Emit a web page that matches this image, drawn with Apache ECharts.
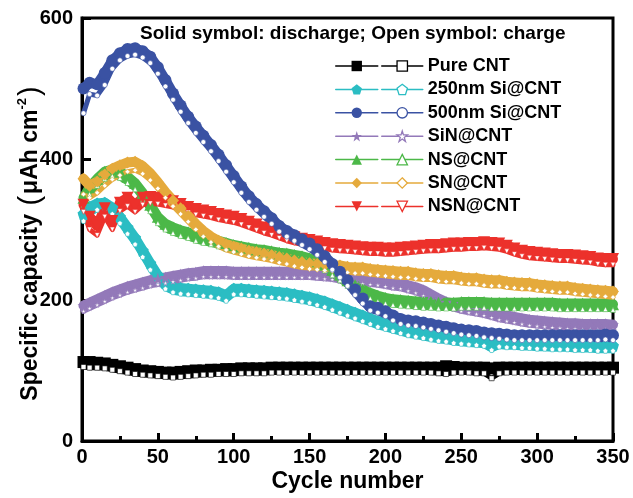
<!DOCTYPE html>
<html>
<head>
<meta charset="utf-8">
<script src="https://cdn.jsdelivr.net/npm/echarts@6.0.0/dist/echarts.min.js"></script>
<style>
  html, body { margin: 0; padding: 0; background: #fff; }
  #chart { width: 633px; height: 498px; }
</style>
</head>
<body>
<div id="chart"></div>
<script>
// cycle numbers the values were read at
const cycles = [1, 5, 10, 15, 20, 25, 30, 35, 40, 45,
  50, 55, 60, 65, 70, 75, 80, 85, 90, 95,
  100, 105, 110, 115, 120, 125, 130, 135, 140, 145,
  150, 155, 160, 165, 170, 175, 180, 185, 190, 195,
  200, 205, 210, 215, 220, 225, 230, 235, 240, 245,
  250, 255, 260, 265, 270, 275, 280, 285, 290, 295,
  300, 305, 310, 315, 320, 325, 330, 335, 340, 345,
  350];

// discharge (solid symbol) / charge (open symbol), uAh cm-2
const pureDis = [112, 112, 111, 110, 108, 106, 104, 102, 100, 99,
  98, 97, 97, 98, 99, 100, 100, 101, 101, 102,
  102, 103, 103, 103, 103, 104, 104, 104, 104, 104,
  104, 104, 104, 104, 104, 104, 104, 104, 104, 104,
  104, 104, 104, 104, 104, 104, 104, 104, 106, 105,
  104, 104, 104, 104, 103, 104, 104, 104, 104, 104,
  104, 104, 104, 104, 104, 104, 104, 104, 104, 104,
  104];
const pureChg = [105, 104, 104, 103, 101, 99, 97, 95, 94, 93,
  92, 91, 90, 91, 92, 93, 94, 94, 95, 95,
  95, 96, 96, 96, 96, 97, 97, 97, 97, 97,
  97, 97, 97, 97, 97, 97, 97, 97, 97, 97,
  97, 97, 97, 97, 97, 97, 97, 96, 95, 97,
  97, 97, 96, 96, 89, 96, 97, 97, 97, 97,
  97, 97, 97, 97, 97, 97, 97, 97, 97, 97,
  97];

const si250Dis = [322, 332, 337, 338, 331, 318, 303, 288, 270, 252,
  235, 224, 219, 217, 216, 215, 214, 213, 211, 207,
  216, 216, 215, 214, 213, 212, 211, 210, 208, 206,
  204, 201, 198, 194, 190, 186, 182, 178, 174, 170,
  167, 164, 161, 158, 156, 154, 152, 150, 149, 147,
  146, 145, 144, 143, 136, 141, 140, 140, 139, 139,
  138, 138, 137, 137, 137, 136, 136, 136, 135, 135,
  135];
const si250Chg = [312, 322, 328, 330, 322, 309, 294, 279, 261, 243,
  226, 216, 211, 209, 208, 207, 206, 205, 203, 199,
  208, 208, 207, 206, 205, 204, 203, 202, 200, 198,
  196, 193, 190, 186, 182, 178, 174, 170, 166, 162,
  159, 156, 153, 150, 148, 146, 144, 142, 141, 139,
  138, 137, 136, 135, 129, 134, 133, 133, 132, 132,
  131, 131, 130, 130, 130, 129, 129, 129, 128, 128,
  128];

const si500Dis = [500, 508, 506, 522, 540, 550, 556, 557, 553, 545,
  530, 512, 493, 476, 460, 446, 433, 420, 406, 391,
  376, 361, 347, 336, 326, 316, 305, 298, 292, 286,
  280, 272, 262, 251, 240, 228, 215, 202, 191, 189,
  184, 178, 173, 171, 170, 168, 166, 164, 162, 160,
  158, 157, 156, 154, 153, 152, 151, 150, 150, 150,
  150, 150, 150, 150, 150, 150, 150, 150, 150, 151,
  150];
const si500Chg = [465, 492, 490, 505, 528, 540, 546, 548, 544, 536,
  521, 503, 484, 467, 451, 437, 424, 411, 397, 382,
  367, 352, 339, 328, 318, 308, 297, 290, 284, 278,
  272, 264, 254, 243, 232, 220, 207, 195, 185, 182,
  177, 171, 166, 164, 163, 161, 159, 157, 155, 153,
  151, 150, 149, 147, 146, 145, 144, 143, 143, 143,
  143, 143, 143, 143, 143, 143, 143, 143, 143, 144,
  143];

const sinDis = [192, 196, 201, 206, 211, 215, 219, 222, 225, 228,
  230, 232, 234, 236, 238, 239, 241, 241, 241, 241,
  240, 240, 240, 240, 240, 240, 240, 240, 240, 240,
  240, 239, 238, 237, 235, 233, 232, 231, 230, 229,
  227, 225, 224, 221, 218, 214, 208, 202, 197, 195,
  192, 190, 188, 186, 183, 180, 178, 176, 174, 172,
  171, 170, 169, 168, 167, 167, 166, 166, 166, 166,
  165];
const sinChg = [184, 188, 193, 198, 203, 207, 211, 214, 217, 220,
  222, 224, 226, 228, 230, 231, 233, 233, 233, 233,
  232, 232, 232, 232, 232, 232, 232, 232, 232, 232,
  232, 231, 230, 229, 227, 225, 224, 223, 222, 221,
  219, 217, 216, 213, 210, 206, 200, 194, 189, 187,
  184, 182, 180, 178, 175, 172, 170, 168, 166, 164,
  163, 162, 161, 160, 159, 159, 158, 158, 158, 158,
  157];

const nsDis = [345, 360, 372, 382, 385, 382, 375, 366, 352, 335,
  318, 308, 303, 299, 296, 292, 289, 287, 284, 281,
  278, 276, 274, 272, 271, 269, 267, 266, 264, 262,
  259, 255, 250, 243, 236, 228, 221, 215, 210, 206,
  203, 201, 200, 199, 198, 197, 197, 196, 196, 196,
  197, 197, 197, 197, 196, 196, 196, 196, 196, 196,
  196, 196, 196, 195, 195, 195, 195, 195, 195, 195,
  194];
const nsChg = [335, 350, 362, 372, 376, 373, 366, 357, 343, 326,
  309, 300, 295, 291, 288, 284, 281, 279, 276, 273,
  270, 268, 266, 264, 263, 261, 259, 258, 256, 254,
  251, 247, 242, 235, 228, 220, 213, 207, 202, 198,
  195, 193, 192, 191, 190, 189, 189, 188, 188, 188,
  189, 189, 189, 189, 188, 188, 188, 188, 188, 188,
  188, 188, 188, 187, 187, 187, 187, 187, 187, 187,
  186];

const snDis = [372, 362, 368, 378, 386, 391, 395, 396, 390, 380,
  367, 353, 341, 330, 319, 308, 298, 290, 284, 279,
  276, 273, 270, 268, 266, 264, 261, 259, 256, 254,
  252, 251, 250, 249, 249, 247, 246, 246, 244, 243,
  242, 241, 240, 240, 238, 237, 237, 235, 234, 234,
  232, 231, 231, 229, 228, 228, 226, 225, 224, 224,
  222, 221, 220, 219, 219, 217, 216, 215, 214, 213,
  212];
const snChg = [350, 345, 352, 362, 371, 377, 382, 384, 379, 370,
  358, 345, 333, 322, 311, 300, 290, 282, 276, 271,
  268, 265, 262, 260, 258, 256, 253, 251, 248, 246,
  244, 243, 242, 241, 241, 239, 238, 238, 236, 235,
  234, 233, 232, 232, 230, 229, 229, 227, 226, 226,
  224, 223, 223, 221, 220, 220, 218, 217, 216, 216,
  214, 213, 212, 211, 211, 209, 208, 207, 206, 205,
  204];

const nsnDis = [335, 318, 305, 330, 312, 338, 345, 334, 345, 346,
  345, 342, 340, 336, 332, 329, 327, 325, 322, 320,
  318, 315, 311, 307, 303, 300, 296, 292, 289, 287,
  285, 283, 281, 279, 278, 277, 276, 275, 274, 274,
  273, 273, 274, 275, 276, 277, 278, 278, 279, 280,
  280, 281, 281, 282, 281, 280, 277, 273, 270, 268,
  267, 266, 265, 264, 264, 263, 262, 261, 259, 258,
  258];
const nsnChg = [325, 300, 292, 318, 300, 326, 333, 325, 335, 337,
  336, 334, 332, 328, 324, 321, 319, 317, 314, 312,
  310, 307, 303, 299, 295, 292, 288, 284, 281, 279,
  277, 275, 273, 271, 270, 269, 268, 267, 266, 266,
  265, 265, 266, 267, 268, 269, 270, 270, 271, 272,
  272, 273, 273, 274, 273, 272, 269, 265, 262, 260,
  259, 258, 257, 256, 256, 255, 254, 253, 251, 250,
  250];

const names = ['Pure CNT', '250nm Si@CNT', '500nm Si@CNT', 'SiN@CNT', 'NS@CNT', 'SN@CNT', 'NSN@CNT'];
const colors = ['#000000', '#2bbdc3', '#3a52a3', '#9379b9', '#4cb848', '#e5aa3c', '#ec312b'];
const symbols = [
  'rect',
  'path://M0,-1L0.951,-0.309L0.588,0.809L-0.588,0.809L-0.951,-0.309Z',
  'circle',
  'path://M0,-1L0.225,-0.309L0.951,-0.309L0.363,0.118L0.588,0.809L0,0.382L-0.588,0.809L-0.363,0.118L-0.951,-0.309L-0.225,-0.309Z',
  'triangle',
  'diamond',
  'path://M-1,-1L1,-1L0,1Z'
];
const dischargeData = [pureDis, si250Dis, si500Dis, sinDis, nsDis, snDis, nsnDis];
const chargeData = [pureChg, si250Chg, si500Chg, sinChg, nsChg, snChg, nsnChg];
// 画的先后顺序（后画的在上面）
const drawOrder = [0, 1, 3, 4, 6, 5, 2];

const FONT = '"Liberation Sans", Arial, Helvetica, sans-serif';

const chart = echarts.init(document.getElementById('chart'));

const series = [];
drawOrder.forEach(i => {
  series.push({
    name: names[i],
    type: 'line',
    data: cycles.map((c, k) => [c, dischargeData[i][k]]),
    symbol: symbols[i],
    symbolSize: 12,
    showAllSymbol: true,
    lineStyle: { width: 10, color: colors[i], cap: 'round', join: 'round' },
    itemStyle: { color: colors[i] }
  });
  // 充电：同色细带 + 白色小点，看起来像空心符号挤在一起
  series.push({
    name: names[i] + ' (charge)',
    type: 'line',
    data: cycles.map((c, k) => [c, chargeData[i][k]]),
    symbol: symbols[i],
    symbolSize: 5,
    showAllSymbol: true,
    lineStyle: { width: 5, color: colors[i], cap: 'round', join: 'round' },
    itemStyle: { color: '#fff', borderColor: colors[i], borderWidth: 0.6 }
  });
});

const legendText = { fontFamily: FONT, fontWeight: 'bold', fontSize: 18, color: '#000' };

const option = {
  animation: false,
  title: {
    text: 'Solid symbol: discharge; Open symbol: charge',
    left: 135,
    top: 19,
    textStyle: { fontFamily: FONT, fontWeight: 'bold', fontSize: 19, color: '#000' }
  },
  legend: [
    {
      orient: 'vertical',
      left: 335,
      top: 57,
      padding: 0,
      itemWidth: 42,
      itemHeight: 13,
      itemGap: 5.4,
      selectedMode: false,
      data: names,
      formatter: () => ' ',
      textStyle: legendText,
      lineStyle: { width: 1.5 }
    },
    {
      orient: 'vertical',
      left: 381,
      top: 57,
      padding: 0,
      itemWidth: 41,
      itemHeight: 13,
      itemGap: 5.4,
      selectedMode: false,
      data: names.map((n, i) => ({
        name: n + ' (charge)',
        itemStyle: { color: '#fff', borderColor: colors[i], borderWidth: 1.3 }
      })),
      formatter: n => n.replace(' (charge)', ''),
      textStyle: legendText,
      lineStyle: { width: 1.5 }
    }
  ],
  grid: {
    left: 82,
    right: 20,
    top: 18,
    bottom: 55,
    show: true,
    borderColor: '#000',
    borderWidth: 3,
    backgroundColor: 'transparent'
  },
  xAxis: {
    type: 'value',
    min: 0,
    max: 350,
    interval: 50,
    name: 'Cycle number',
    nameLocation: 'middle',
    nameGap: 29,
    nameMoveOverlap: false,
    nameTextStyle: { fontFamily: FONT, fontWeight: 'bold', fontSize: 23, color: '#000' },
    axisLine: { lineStyle: { color: '#000', width: 3 } },
    axisTick: { inside: true, length: 8, lineStyle: { width: 3, color: '#000' } },
    minorTick: { show: true, splitNumber: 2, length: 5, lineStyle: { width: 3, color: '#000' } },
    splitLine: { show: false },
    axisLabel: { margin: 6, fontFamily: FONT, fontWeight: 'bold', fontSize: 20, color: '#000' }
  },
  yAxis: {
    type: 'value',
    min: 0,
    max: 600,
    interval: 200,
    name: 'Specific capacity {par|(}μAh cm{sup|-2}{par|)}',
    nameLocation: 'middle',
    nameGap: 37,
    nameMoveOverlap: false,
    nameTextStyle: {
      fontFamily: FONT, fontWeight: 'bold', fontSize: 23, color: '#000',
      padding: [0, 26, 0, 0],
      rich: {
        par: { fontFamily: FONT, fontWeight: 'normal', fontSize: 29, color: '#000', padding: [0, 2, 0, 2] },
        sup: { fontFamily: FONT, fontWeight: 'bold', fontSize: 13, color: '#000', verticalAlign: 'top', lineHeight: 26 }
      }
    },
    axisLine: { lineStyle: { color: '#000', width: 3 } },
    axisTick: { inside: true, length: 9, lineStyle: { width: 3, color: '#000' } },
    splitLine: { show: false },
    axisLabel: { margin: 9, fontFamily: FONT, fontWeight: 'bold', fontSize: 20, color: '#000' }
  },
  series: series
};

chart.setOption(option);
</script>
</body>
</html>
